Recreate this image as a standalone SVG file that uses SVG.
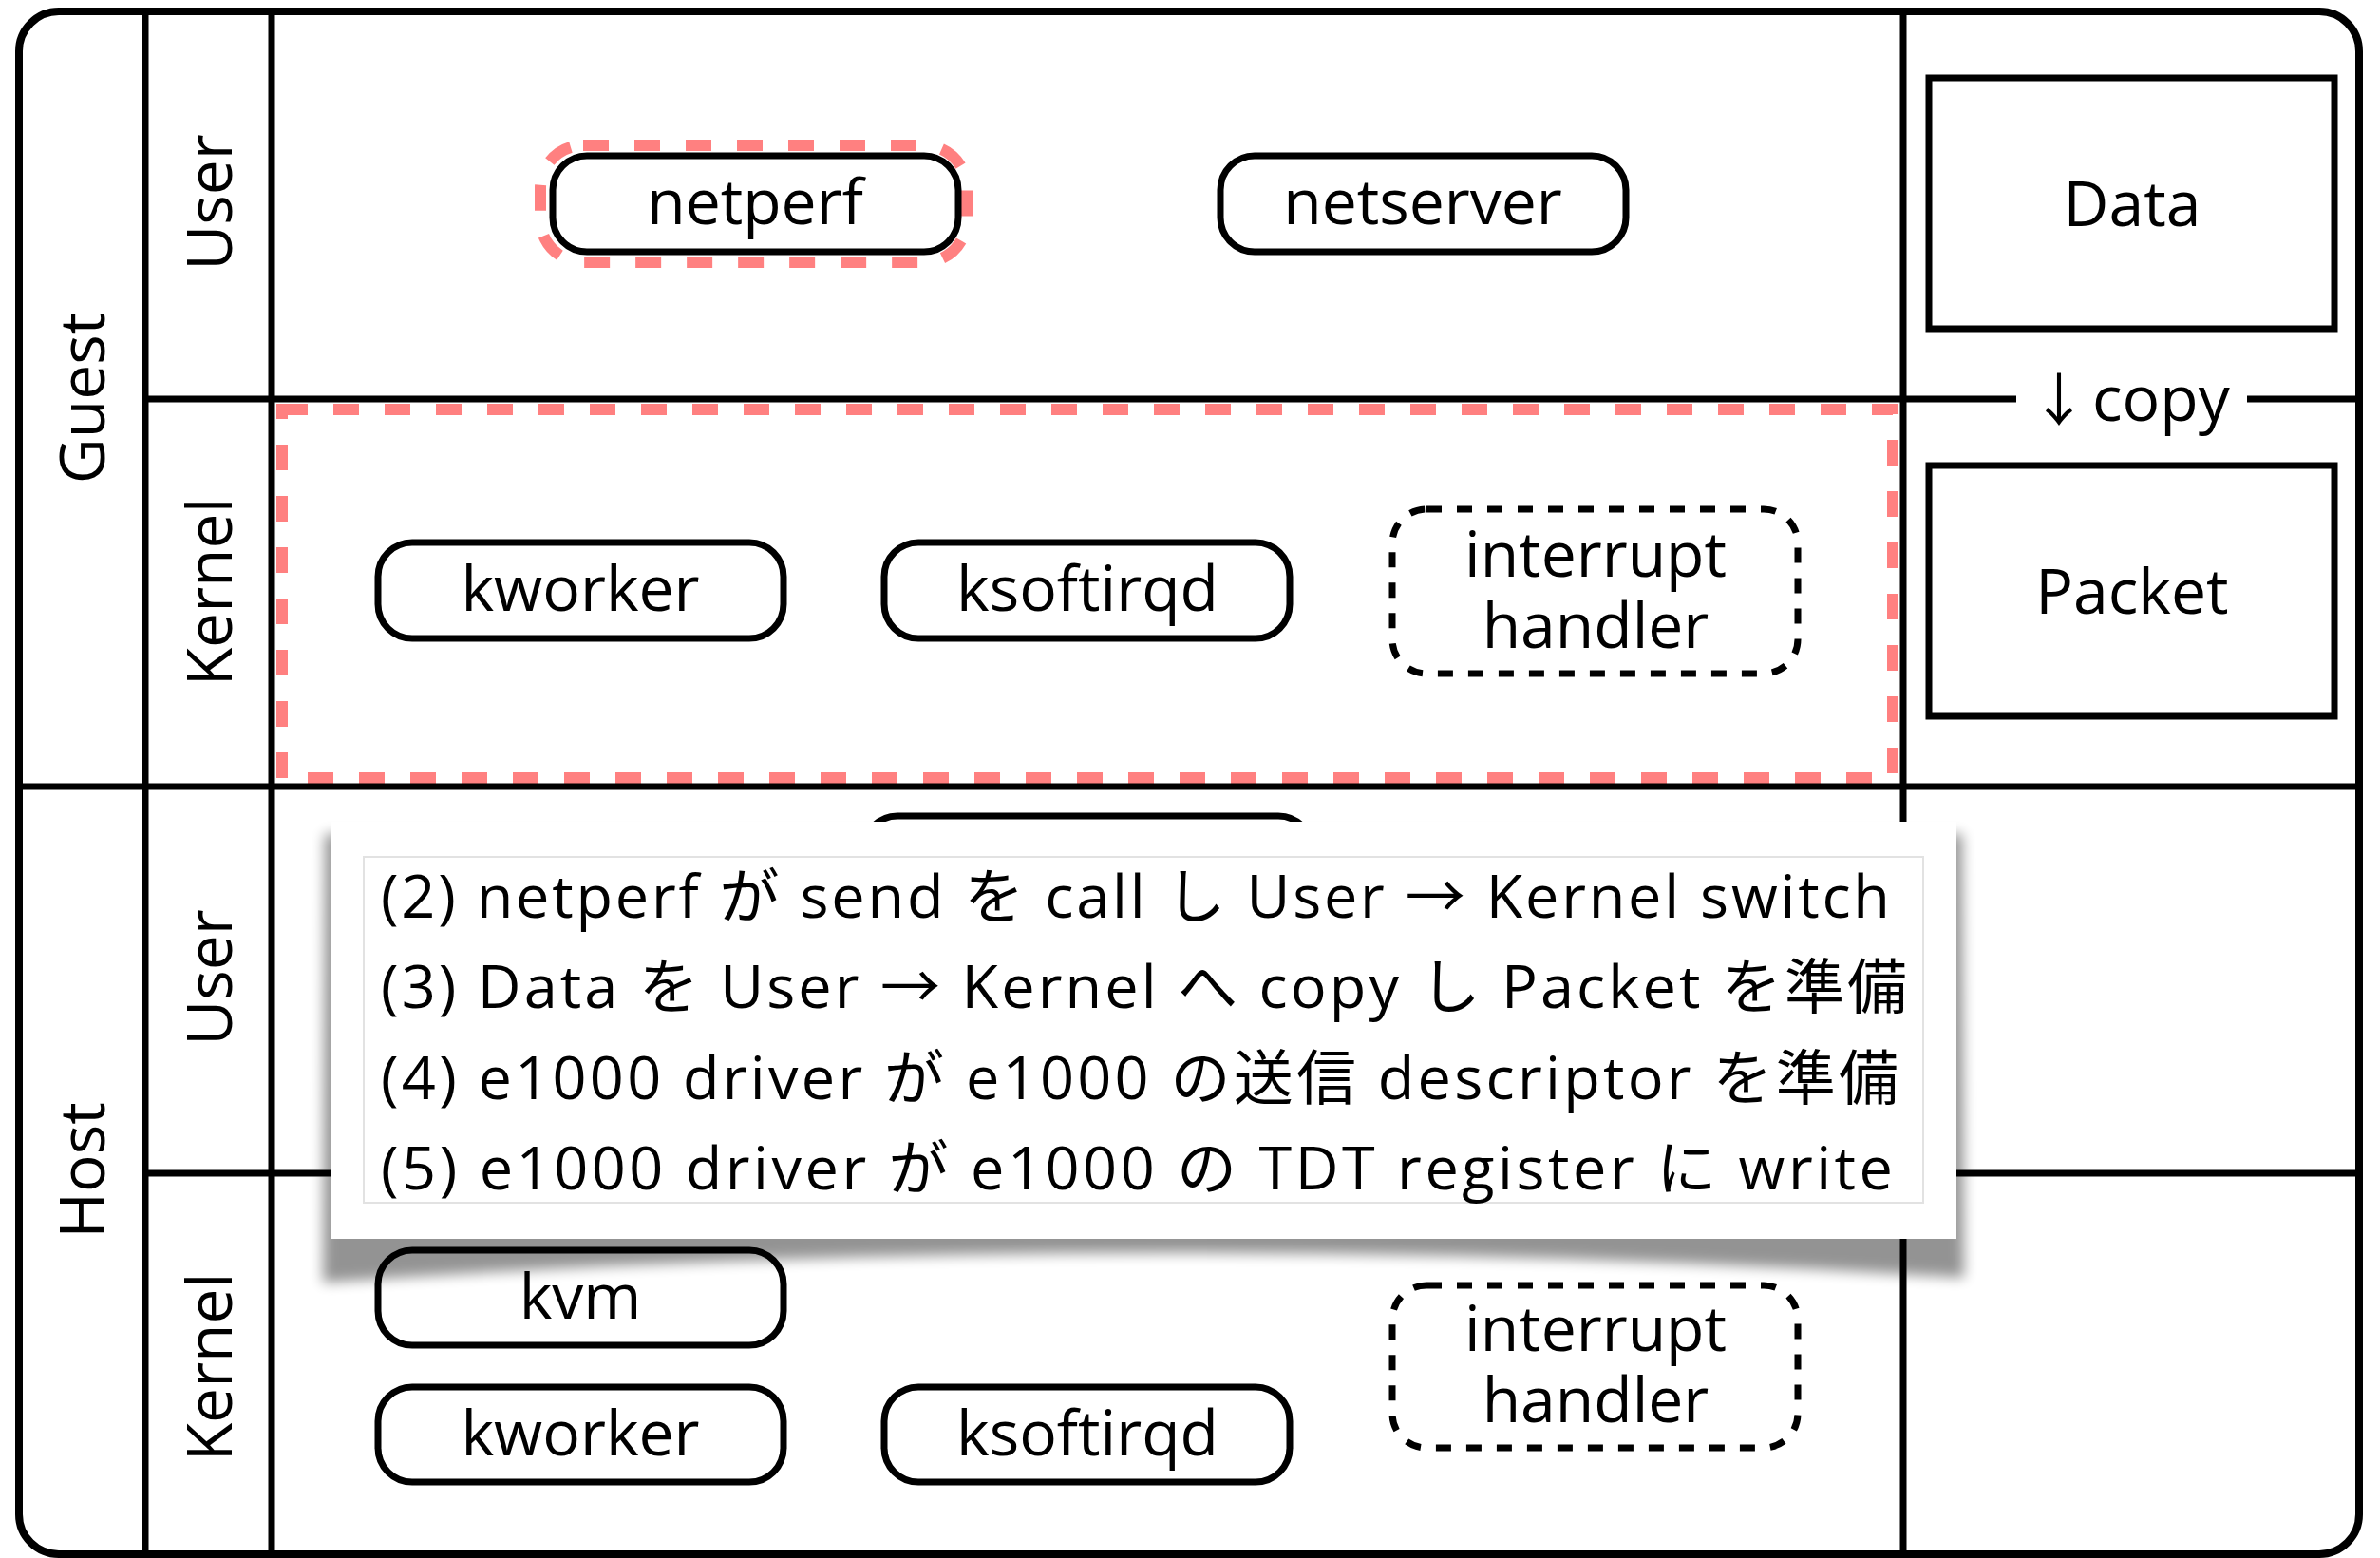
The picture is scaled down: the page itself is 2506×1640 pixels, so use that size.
<svg xmlns="http://www.w3.org/2000/svg" width="2506" height="1640" viewBox="0 0 2506 1640">
<style>
.frame{fill:none;stroke:#000;stroke-width:8}
.ln{fill:none;stroke:#000;stroke-width:7}
.node{fill:#fff;stroke:#000;stroke-width:7}
.dnode{fill:#fff;stroke:#000;stroke-width:7;stroke-dasharray:16 16}
.box{fill:#fff;stroke:#000;stroke-width:7}
.hl{fill:none;stroke:#ff8080;stroke-width:12;stroke-dasharray:27 27}
.t{font-family:"Open Sans","Noto Sans CJK JP",sans-serif;font-size:66px;fill:#000;text-anchor:middle}
.ov{font-family:"Open Sans","Noto Sans CJK JP",sans-serif;font-size:63px;fill:#000}
</style>
<defs>
<filter id="sh" x="-10%" y="-30%" width="120%" height="160%"><feGaussianBlur stdDeviation="7"/></filter>
</defs>
<rect width="2506" height="1640" fill="#fff"/>

<g id="highlights">
<rect class="hl" x="297" y="431" width="1696" height="388"/>
<rect class="hl" x="569" y="153" width="449" height="123" rx="45"/>
</g>

<g id="lanes">
<rect class="frame" x="20" y="12" width="2464" height="1624" rx="42"/>
<line class="ln" x1="153" y1="12" x2="153" y2="1636"/>
<line class="ln" x1="286" y1="12" x2="286" y2="1636"/>
<line class="ln" x1="2004" y1="12" x2="2004" y2="1636"/>
<line class="ln" x1="153" y1="420" x2="2123" y2="420"/>
<line class="ln" x1="2366" y1="420" x2="2484" y2="420"/>
<line class="ln" x1="20" y1="828" x2="2484" y2="828"/>
<line class="ln" x1="153" y1="1235" x2="2484" y2="1235"/>
<text class="t" transform="translate(110,419) rotate(-90)">Guest</text>
<text class="t" transform="translate(110,1232) rotate(-90)">Host</text>
<text class="t" transform="translate(244,213) rotate(-90)">User</text>
<text class="t" transform="translate(244,623) rotate(-90)">Kernel</text>
<text class="t" transform="translate(244,1029) rotate(-90)">User</text>
<text class="t" transform="translate(244,1439) rotate(-90)">Kernel</text>
</g>

<g id="netperf"><rect class="node" x="582" y="164" width="427" height="101" rx="36"/><text class="t" x="795" y="236">netperf</text></g>
<g id="netserver"><rect class="node" x="1285" y="164" width="427" height="101" rx="36"/><text class="t" x="1498" y="236">netserver</text></g>
<g id="data"><rect class="box" x="2031" y="82" width="427" height="264"/><text class="t" x="2245" y="238">Data</text></g>
<g id="packet"><rect class="box" x="2031" y="490" width="427" height="264"/><text class="t" x="2245" y="646">Packet</text></g>

<g id="guest-kworker"><rect class="node" x="398" y="571" width="427" height="101" rx="36"/><text class="t" x="611" y="643">kworker</text></g>
<g id="guest-ksoftirqd"><rect class="node" x="931" y="571" width="427" height="101" rx="36"/><text class="t" x="1145" y="643">ksoftirqd</text></g>
<g id="guest-interrupt-handler"><rect class="dnode" x="1466" y="536" width="427" height="173" rx="36"/><text class="t"><tspan x="1680" y="607">interrupt</tspan><tspan x="1680" y="682">handler</tspan></text></g>

<g id="host-user-node"><rect class="node" x="909" y="859" width="473" height="101" rx="36"/></g>
<g id="kvm"><rect class="node" x="398" y="1316" width="427" height="100" rx="36"/><text class="t" x="611" y="1388">kvm</text></g>
<g id="host-kworker"><rect class="node" x="398" y="1460" width="427" height="100" rx="36"/><text class="t" x="611" y="1532">kworker</text></g>
<g id="host-ksoftirqd"><rect class="node" x="931" y="1460" width="427" height="100" rx="36"/><text class="t" x="1145" y="1532">ksoftirqd</text></g>
<g id="host-interrupt-handler"><rect class="dnode" x="1466" y="1353" width="427" height="171" rx="36"/><text class="t"><tspan x="1680" y="1422">interrupt</tspan><tspan x="1680" y="1497">handler</tspan></text></g>

<g id="connectors">
<text class="t" x="2138" y="443" style="text-anchor:start;font-size:60px">↓<tspan dx="5" style="font-size:66px">copy</tspan></text>
</g>

<g id="popup">
<path d="M342 878 L2066 878 L2068 1345 Q1204 1290 340 1350 Z" fill="#000" opacity="0.42" filter="url(#sh)"/>
<rect x="348" y="865" width="1712" height="439" fill="#fff"/>
<rect x="383" y="902" width="1642" height="364" fill="#fff" stroke="#e2e2e2" stroke-width="2"/>
<text class="ov" x="401" y="966" textLength="1589" lengthAdjust="spacing">(2) netperf が send を call し User → Kernel switch</text>
<text class="ov" x="401" y="1061" textLength="1607" lengthAdjust="spacing">(3) Data を User → Kernel へ copy し Packet を準備</text>
<text class="ov" x="401" y="1157" textLength="1598" lengthAdjust="spacing">(4) e1000 driver が e1000 の送信 descriptor を準備</text>
<text class="ov" x="401" y="1252" textLength="1592" lengthAdjust="spacing">(5) e1000 driver が e1000 の TDT register に write</text>
</g>
</svg>
